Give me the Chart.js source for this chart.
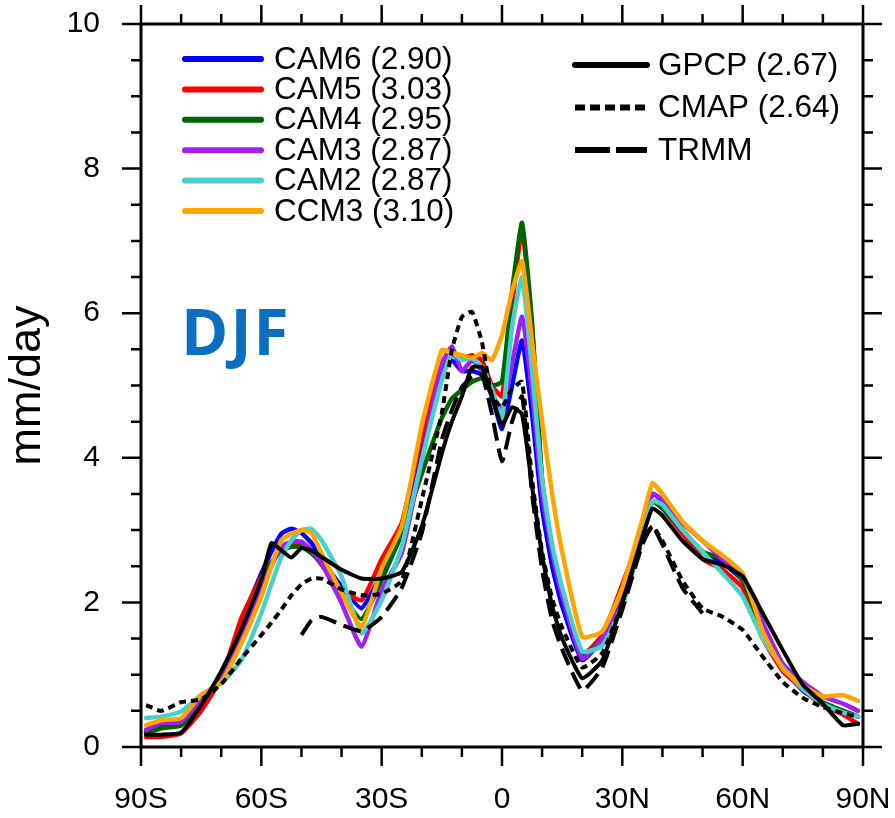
<!DOCTYPE html>
<html lang="en">
<head>
<meta charset="UTF-8" />
<title>DJF zonal mean precipitation</title>
<script src="https://cdn.jsdelivr.net/npm/chart.js"></script>
<style>
  body{margin:0;background:#fff;}
  #wrap{width:895px;height:818px;position:relative;}
</style>
</head>
<body>
<div id="wrap"><canvas id="precip"></canvas></div>
<script>
// latitude grid, degrees (negative = south)
const lats = [-88.75,-85,-80,-75,-70,-65,-60,-57.5,-55,-52.5,-50,-47.5,-45,-40,-35,-30,-25,-20,-15,-12.5,-10,-7.5,-5,-2.5,0,2.5,5,7.5,10,12.5,15,20,25,30,35,37.5,40,45,50,55,60,65,70,75,80,85,88.75];

// zonal mean DJF precipitation, mm/day
const cam6 = [0.21,0.28,0.3,0.62,0.95,1.72,2.4,2.7,2.95,3.02,2.96,2.82,2.6,2.22,1.92,2.4,2.95,4.2,5.2,5.35,5.2,5.2,5.15,4.85,4.4,5.0,5.62,4.6,3.3,2.5,1.95,1.2,1.5,2.15,3.0,3.5,3.4,3.0,2.7,2.55,2.3,1.62,1.1,0.78,0.6,0.5,0.42];
const cam5 = [0.14,0.14,0.19,0.5,0.95,1.78,2.35,2.55,2.72,2.79,2.8,2.7,2.52,2.17,2.03,2.6,3.1,4.3,5.3,5.42,5.38,5.42,5.35,5.0,4.85,6.1,7.15,5.8,3.7,2.75,2.15,1.28,1.55,2.25,3.0,3.4,3.3,2.95,2.6,2.45,2.2,1.5,1.05,0.8,0.58,0.45,0.32];
const cam4 = [0.19,0.26,0.3,0.62,0.95,1.57,2.26,2.55,2.72,2.77,2.77,2.68,2.54,2.1,1.77,2.31,2.95,3.78,4.55,4.82,4.94,5.05,5.1,5.0,5.05,6.3,7.25,5.86,3.67,2.7,2.12,1.25,1.5,2.15,2.95,3.4,3.3,3.0,2.7,2.6,2.3,1.6,1.1,0.82,0.62,0.5,0.42];
const cam3 = [0.24,0.33,0.35,0.66,0.92,1.48,2.17,2.5,2.77,2.84,2.84,2.72,2.54,1.99,1.39,2.17,2.68,3.97,5.3,5.54,5.2,5.35,5.2,4.9,4.65,5.3,5.95,4.9,3.5,2.7,2.1,1.22,1.5,2.15,3.0,3.5,3.42,3.1,2.85,2.6,2.35,1.72,1.15,0.9,0.7,0.6,0.5];
const cam2 = [0.4,0.42,0.49,0.72,0.88,1.2,1.85,2.25,2.63,2.86,3.0,3.02,2.86,2.36,1.57,2.03,2.77,3.97,5.07,5.45,5.35,5.38,5.25,4.95,4.55,5.8,6.5,5.2,3.7,2.8,2.2,1.32,1.4,1.95,2.9,3.4,3.35,3.0,2.7,2.4,2.08,1.5,1.1,0.8,0.6,0.48,0.42];
const ccm3 = [0.3,0.37,0.4,0.72,0.9,1.43,2.08,2.5,2.86,2.95,3.0,2.96,2.68,2.13,1.66,2.47,3.05,4.45,5.49,5.45,5.42,5.38,5.45,5.35,5.7,6.3,6.72,5.6,4.5,3.5,2.7,1.52,1.6,2.2,3.15,3.65,3.5,3.12,2.85,2.65,2.4,1.6,1.08,0.85,0.7,0.72,0.64];
const gpcp = [0.17,0.17,0.2,0.58,1.05,1.62,2.31,2.82,2.72,2.62,2.75,2.72,2.63,2.45,2.33,2.33,2.42,3.05,4.06,4.5,4.85,5.25,5.25,4.85,4.45,4.7,4.6,3.6,2.65,1.95,1.5,0.95,1.2,2.0,2.9,3.3,3.2,2.85,2.6,2.52,2.36,1.85,1.34,0.86,0.6,0.3,0.32];
const cmap = [0.58,0.5,0.62,0.66,0.87,1.22,1.55,1.72,1.9,2.1,2.25,2.33,2.33,2.18,2.1,2.12,2.3,3.42,4.62,5.49,5.95,6.02,5.6,4.85,4.7,4.95,5.05,3.7,2.7,2.05,1.65,1.1,1.3,2.0,2.85,3.05,2.85,2.3,1.92,1.8,1.62,1.25,0.9,0.68,0.55,0.47,0.42];
// TRMM only covers 50S-50N
const trmm = [null,null,null,null,null,null,null,null,null,null,1.55,1.75,1.8,1.69,1.6,1.8,2.2,2.96,4.25,4.66,4.98,5.12,5.15,4.6,3.95,4.5,4.85,3.5,2.45,1.75,1.35,0.78,1.1,1.9,2.8,3.05,2.8,2.2,1.85,null,null,null,null,null,null,null,null];

const xTicks = [-90,-60,-30,0,30,60,90];
const xLabels = ['90S','60S','30S','0','30N','60N','90N'];
const yTicks = [0,2,4,6,8,10];

const FONT = '"Liberation Sans", Arial, Helvetica, sans-serif';

const models = [
  {label:'CAM6 (2.90)', data:cam6, color:'#0000ff'},
  {label:'CAM5 (3.03)', data:cam5, color:'#ff0000'},
  {label:'CAM4 (2.95)', data:cam4, color:'#006400'},
  {label:'CAM3 (2.87)', data:cam3, color:'#a020f0'},
  {label:'CAM2 (2.87)', data:cam2, color:'#48d1cc'},
  {label:'CCM3 (3.10)', data:ccm3, color:'#ffa500'}
];
const obs = [
  {label:'GPCP (2.67)', data:gpcp, dash:[], legDash:[]},
  {label:'CMAP (2.64)', data:cmap, dash:[7,5], legDash:[10,5]},
  {label:'TRMM',        data:trmm, dash:[18,8], legDash:[35,6]}
];

const pts = vals => lats.map((x,i)=>({x:x, y:vals[i]}));

// observations first so they sit on top; later models are drawn underneath earlier ones
const datasets = [
  ...obs.map(o=>({label:o.label, data:pts(o.data), borderColor:'#000', borderWidth:4,
    borderDash:o.dash, borderCapStyle:o.dash.length?'butt':'round', borderJoinStyle:'round',
    pointRadius:0, tension:0.15, fill:false})),
  ...models.slice().reverse().map(m=>({label:m.label, data:pts(m.data), borderColor:m.color,
    borderWidth:4.5, borderCapStyle:'round', borderJoinStyle:'round',
    pointRadius:0, tension:0.15, fill:false}))
];

// frame with outward major/minor ticks, legend and season tag
const decor = {
  id:'decor',
  afterDatasetsDraw(chart){
    const {ctx, chartArea:a, scales:{x, y}} = chart;
    ctx.save();
    ctx.strokeStyle = '#000';
    ctx.lineWidth = 3;
    ctx.strokeRect(a.left, a.top, a.right-a.left, a.bottom-a.top);
    ctx.lineWidth = 2.5;
    ctx.beginPath();
    for(let v=-90; v<=90; v+=10){
      const px = x.getPixelForValue(v), len = v%30===0 ? 19 : 10;
      ctx.moveTo(px, a.bottom); ctx.lineTo(px, a.bottom+len);
      ctx.moveTo(px, a.top); ctx.lineTo(px, a.top-len);
    }
    for(let v=0; v<=10; v+=0.5){
      const py = y.getPixelForValue(v), len = v%2===0 ? 19 : 10;
      ctx.moveTo(a.left, py); ctx.lineTo(a.left-len, py);
      ctx.moveTo(a.right, py); ctx.lineTo(a.right+len, py);
    }
    ctx.stroke();

    ctx.font = '31.5px ' + FONT;
    ctx.textBaseline = 'middle';
    ctx.fillStyle = '#000';
    ctx.lineWidth = 6;
    models.forEach((m,i)=>{
      const ry = 59 + i*30.4;
      ctx.strokeStyle = m.color; ctx.setLineDash([]); ctx.lineCap = 'round';
      ctx.beginPath(); ctx.moveTo(185, ry); ctx.lineTo(261, ry); ctx.stroke();
      ctx.fillText(m.label, 274, ry+1);
    });
    obs.forEach((o,i)=>{
      const ry = 65 + i*42.5;
      ctx.strokeStyle = '#000'; ctx.setLineDash(o.legDash);
      ctx.lineCap = o.legDash.length ? 'butt' : 'round';
      ctx.beginPath(); ctx.moveTo(575, ry); ctx.lineTo(647, ry); ctx.stroke();
      ctx.fillText(o.label, 658, ry+1);
    });
    ctx.setLineDash([]);

    ctx.font = 'bold 64px "Open Sans", sans-serif';
    ctx.letterSpacing = '2px';
    ctx.fillStyle = '#0a6fc0';
    ctx.textBaseline = 'alphabetic';
    ctx.fillText('DJF', 181, 355);
    ctx.restore();
  }
};

new Chart(document.getElementById('precip'), {
  type:'line',
  data:{datasets:datasets},
  options:{
    responsive:true, maintainAspectRatio:false, animation:false,
    layout:{padding:{top:24, right:32, left:0, bottom:0}},
    plugins:{legend:{display:false}, tooltip:{enabled:false}},
    scales:{
      x:{type:'linear', min:-90, max:90,
        afterBuildTicks:s=>{ s.ticks = xTicks.map(v=>({value:v})); },
        afterFit:s=>{ s.height = 71; s.paddingLeft = 0; s.paddingRight = 0; },
        grid:{display:false, drawTicks:false}, border:{display:false},
        ticks:{autoSkip:false, maxRotation:0, padding:35, color:'#000',
          font:{family:FONT, size:30},
          callback:v=>xLabels[xTicks.indexOf(v)]}},
      y:{min:0, max:10,
        afterBuildTicks:s=>{ s.ticks = yTicks.map(v=>({value:v})); },
        afterFit:s=>{ s.width = 141; s.paddingTop = 0; s.paddingBottom = 0; },
        grid:{display:false, drawTicks:false}, border:{display:false},
        ticks:{padding:41, color:'#000', font:{family:FONT, size:30}},
        title:{display:true, text:'mm/day', color:'#000',
          font:{family:FONT, size:45}, padding:{top:1, bottom:0}}}
    }
  },
  plugins:[decor]
});
</script>
</body>
</html>
